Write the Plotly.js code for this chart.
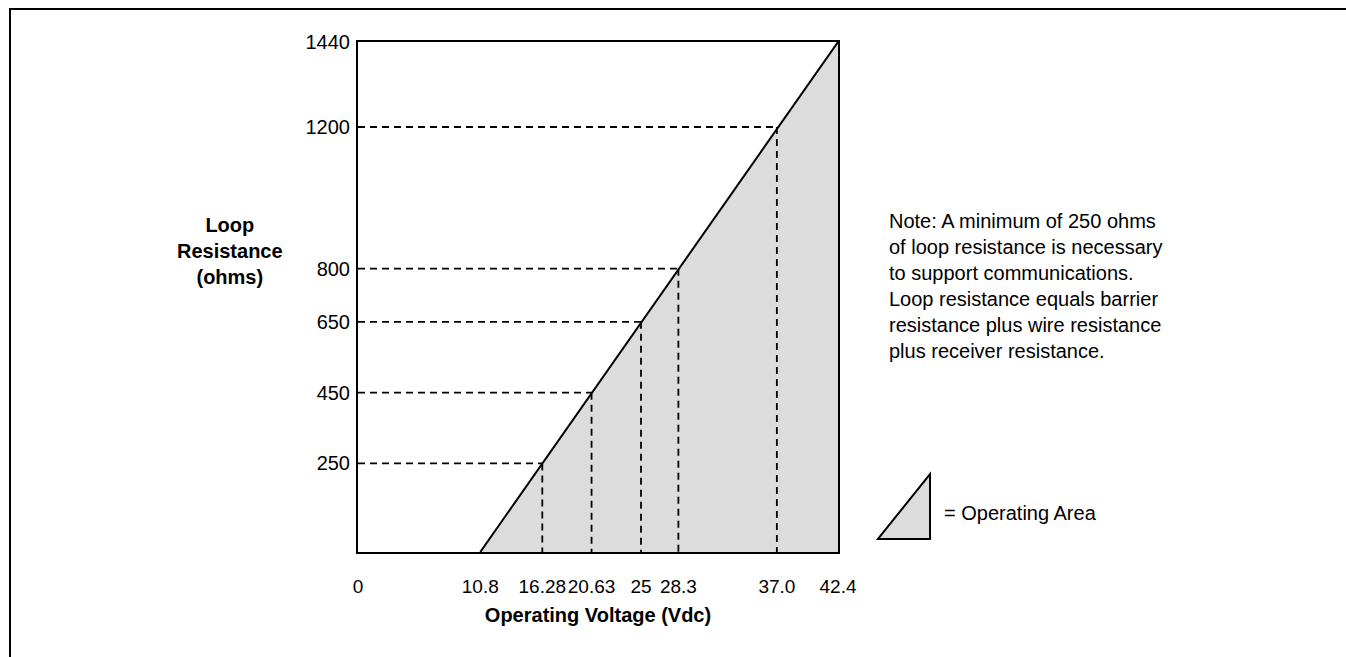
<!DOCTYPE html>
<html>
<head>
<meta charset="utf-8">
<script src="https://cdn.plot.ly/plotly-3.0.1.min.js"></script>
<style>
  html, body { margin: 0; padding: 0; background: #ffffff; overflow: hidden; }
  #chart { width: 1346px; height: 657px; }
  #frame { position: absolute; left: 9px; top: 8px; width: 2000px; height: 2000px;
           border-top: 2.5px solid #000; border-left: 2.5px solid #000;
           pointer-events: none; z-index: 10; }
</style>
</head>
<body>
<div id="chart"></div>
<div id="frame"></div>
<script>
// ---- data ----
const startVoltage = 10.8;            // Vdc at 0 ohms
const maxVoltage = 42.4;              // Vdc at max loop resistance
const maxResistance = 1440;           // ohms
const refVoltages = [16.28, 20.63, 25, 28.3, 37.0];      // Vdc
const refResistances = [250, 450, 650, 800, 1200];       // ohms
const xTickValues = [0, 10.8, 16.28, 20.63, 25, 28.3, 37.0, 42.4];
const xTickLabels = ["0", "10.8", "16.28", "20.63", "25", "28.3", "37.0", "42.4"];
const yTickValues = [250, 450, 650, 800, 1200, 1440];
const yTickLabels = ["250", "450", "650", "800", "1200", "1440"];
const noteText = "Note: A minimum of 250 ohms<br>of loop resistance is necessary<br>to support communications.<br>Loop resistance equals barrier<br>resistance plus wire resistance<br>plus receiver resistance.";

// ---- build traces ----
const FONT = "Liberation Sans, Arial, Helvetica, sans-serif";

const area = {
  x: [startVoltage, maxVoltage, maxVoltage],
  y: [0, maxResistance, 0],
  type: "scatter", mode: "lines", fill: "toself",
  fillcolor: "#dcdcdc", line: { width: 0, color: "rgba(0,0,0,0)" },
  hoverinfo: "skip", showlegend: false
};

const limitLine = {
  x: [startVoltage, maxVoltage],
  y: [0, maxResistance],
  type: "scatter", mode: "lines",
  line: { color: "#000000", width: 2 },
  showlegend: false
};

const hx = [], hy = [], vx = [], vy = [];
for (let i = 0; i < refVoltages.length; i++) {
  hx.push(0, refVoltages[i], null);
  hy.push(refResistances[i], refResistances[i], null);
  vx.push(refVoltages[i], refVoltages[i], null);
  vy.push(refResistances[i], 0, null);
}
const dashStyle = { color: "#000000", width: 1.8, dash: "7px,5px" };
const hDash = { x: hx, y: hy, type: "scatter", mode: "lines", line: dashStyle, showlegend: false, connectgaps: false };
const vDash = { x: vx, y: vy, type: "scatter", mode: "lines", line: dashStyle, showlegend: false, connectgaps: false };

const layout = {
  width: 1346, height: 657,
  margin: { l: 358, r: 508, t: 42, b: 105 },
  paper_bgcolor: "#ffffff", plot_bgcolor: "#ffffff",
  showlegend: false,
  font: { family: FONT, size: 20, color: "#000000" },
  xaxis: {
    range: [0, maxVoltage], showgrid: false, zeroline: false,
    showline: true, mirror: true, linecolor: "#000000", linewidth: 2,
    ticks: "", tickmode: "array", tickvals: xTickValues, ticktext: xTickLabels,
    tickangle: 0,
    tickfont: { family: FONT, size: 19, color: "#000000" },
    ticklabelstandoff: 16,
    title: { text: "<b>Operating Voltage (Vdc)</b>", font: { family: FONT, size: 20, color: "#000000" }, standoff: 12 },
    fixedrange: true
  },
  yaxis: {
    range: [0, maxResistance], showgrid: false, zeroline: false,
    showline: true, mirror: true, linecolor: "#000000", linewidth: 2,
    ticks: "", tickmode: "array", tickvals: yTickValues, ticktext: yTickLabels,
    tickfont: { family: FONT, size: 20, color: "#000000" },
    ticklabelstandoff: 2,
    fixedrange: true
  },
  annotations: [
    { text: "<b>Loop<br>Resistance<br>(ohms)</b>", xref: "paper", yref: "paper",
      x: -0.2667, y: 0.590, xanchor: "center", yanchor: "middle", align: "center",
      showarrow: false, font: { family: FONT, size: 20, color: "#000000" } },
    { text: noteText, xref: "paper", yref: "paper",
      x: 1.102, y: 0.5225, xanchor: "left", yanchor: "middle", align: "left",
      showarrow: false, font: { family: FONT, size: 20, color: "#000000" } },
    { text: "= Operating Area", xref: "paper", yref: "paper",
      x: 1.2167, y: 0.0765, xanchor: "left", yanchor: "middle", align: "left",
      showarrow: false, font: { family: FONT, size: 20, color: "#000000" } }
  ],
  shapes: [
    { type: "path", xref: "paper", yref: "paper",
      path: "M 1.0833,0.0255 L 1.1917,0.1529 L 1.1917,0.0255 Z",
      fillcolor: "#dcdcdc", line: { color: "#000000", width: 2 } }
  ]
};

Plotly.newPlot("chart", [area, hDash, vDash, limitLine], layout, { displayModeBar: false, staticPlot: true });
</script>
</body>
</html>
